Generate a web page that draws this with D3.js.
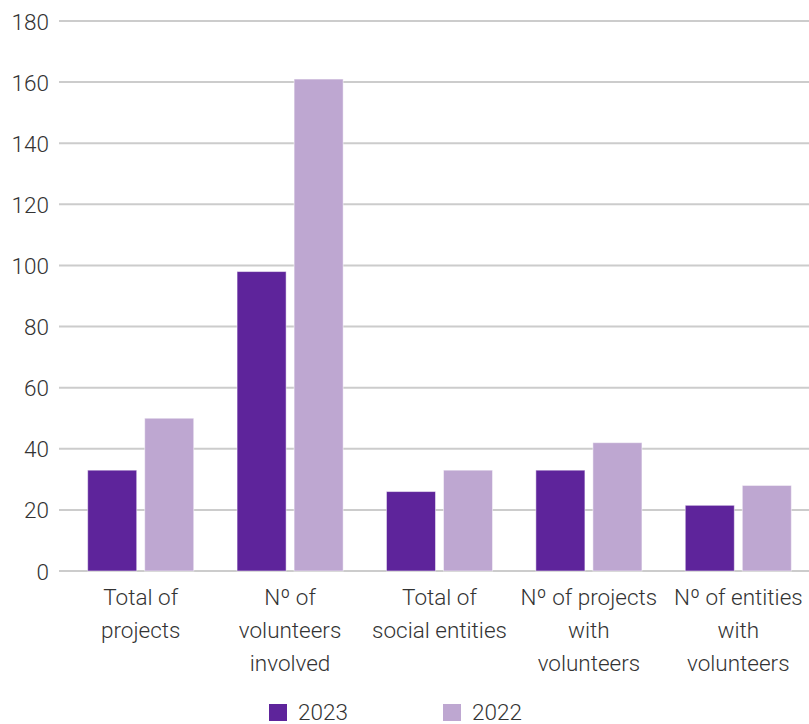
<!DOCTYPE html>
<html><head><meta charset="utf-8">
<script src="https://cdn.jsdelivr.net/npm/d3@7"></script>
<style>body{margin:0;background:#fff}svg{display:block}</style>
</head><body>
<script>
const categories = [["Total of","projects"],["Nº of","volunteers","involved"],["Total of","social entities"],["Nº of projects","with","volunteers"],["Nº of entities","with","volunteers"]];
const seriesNames = ["2023","2022"];
const values2023 = [33, 98, 26, 33, 21.5];
const values2022 = [50, 161, 33, 42, 28];
const yTicks = [0,20,40,60,80,100,120,140,160,180];
const colors = ["#5e249b","#bea7d1"];

const W = 809, H = 724;
const svg = d3.select("body").append("svg").attr("width", W).attr("height", H);
const font = "Roboto, 'Liberation Sans', sans-serif";
const fs = 22.5;

const y = d3.scaleLinear().domain([0,180]).range([571, 21]);
const x0 = d3.scaleBand().domain(d3.range(categories.length)).range([66, 813]).paddingInner(0.29).paddingOuter(0.145);
const x1 = d3.scaleBand().domain(seriesNames).range([0, x0.bandwidth()]).paddingInner(0.14);

// grid
svg.append("g").selectAll("line").data(yTicks).join("line")
  .attr("x1", 59).attr("x2", W).attr("y1", d => y(d)).attr("y2", d => y(d))
  .attr("stroke", "#cccccc").attr("stroke-width", 2);

// y labels
const yAxis = d3.axisLeft(y).tickValues(yTicks).tickSize(0).tickPadding(0);
const ga = svg.append("g").attr("transform", "translate(49,0)").call(yAxis);
ga.select(".domain").remove();
ga.selectAll("text").attr("font-family", font).attr("font-size", fs).attr("font-weight", 300).attr("fill", "#333").attr("dy", "0.36em");

// bars
const data = categories.map((c, i) => ({i, vals: [values2023[i], values2022[i]]}));
const groups = svg.append("g").selectAll("g").data(data).join("g")
  .attr("transform", d => `translate(${x0(d.i)},0)`);
groups.selectAll("rect").data(d => d.vals.map((v, k) => ({k, v}))).join("rect")
  .attr("x", d => x1(seriesNames[d.k]))
  .attr("width", x1.bandwidth())
  .attr("y", d => y(d.v))
  .attr("height", d => y(0) - y(d.v))
  .attr("fill", d => colors[d.k])
  .attr("stroke", "#ffffff").attr("stroke-opacity", 0.5).attr("stroke-width", 1);

// category labels
const labels = svg.append("g").selectAll("text").data(categories).join("text")
  .attr("x", (d, i) => x0(i) + x0.bandwidth() / 2)
  .attr("y", 605)
  .attr("text-anchor", "middle")
  .attr("font-family", font).attr("font-size", fs).attr("font-weight", 300).attr("fill", "#333");
labels.selectAll("tspan").data(d => d).join("tspan")
  .attr("x", function() { return d3.select(this.parentNode).attr("x"); })
  .attr("dy", (d, j) => j === 0 ? 0 : 33)
  .text(d => d);

// legend
const legX = [269, 443];
const leg = svg.append("g").selectAll("g").data(seriesNames).join("g")
  .attr("transform", (d, i) => `translate(${legX[i]},704)`);
leg.append("rect").attr("width", 18).attr("height", 17).attr("fill", (d, i) => colors[i]);
leg.append("text").attr("x", 29).attr("y", 16).text(d => d)
  .attr("font-family", font).attr("font-size", fs).attr("font-weight", 300).attr("fill", "#333");
</script>
</body></html>
